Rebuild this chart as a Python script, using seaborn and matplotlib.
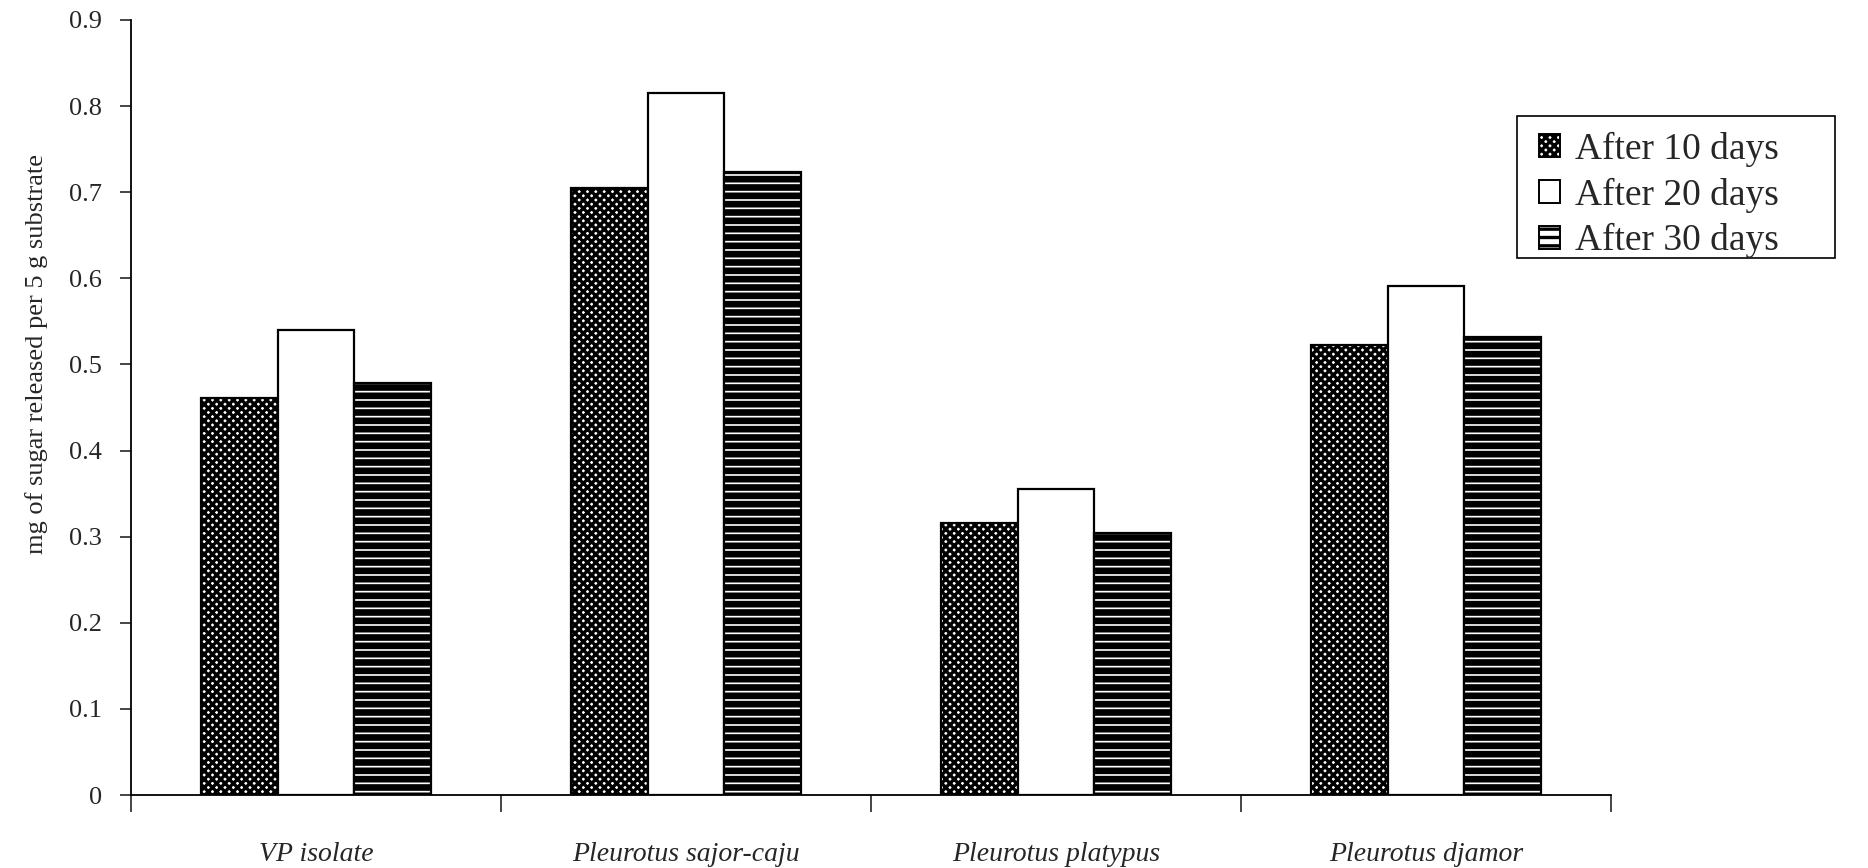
import matplotlib
matplotlib.use("Agg")
import matplotlib.pyplot as plt
import seaborn as sns
import pandas as pd
from matplotlib.patches import Patch, Rectangle

# ---- data ----
categories = ["VP isolate", "Pleurotus sajor-caju", "Pleurotus platypus", "Pleurotus djamor"]
series = ["After 10 days", "After 20 days", "After 30 days"]
after_10 = [0.461, 0.705, 0.316, 0.523]
after_20 = [0.540, 0.815, 0.355, 0.591]
after_30 = [0.479, 0.724, 0.304, 0.532]
y_ticks = [0, 0.1, 0.2, 0.3, 0.4, 0.5, 0.6, 0.7, 0.8, 0.9]
y_tick_labels = ["0", "0.1", "0.2", "0.3", "0.4", "0.5", "0.6", "0.7", "0.8", "0.9"]
y_label = "mg of sugar released per 5 g substrate"

rows = []
for s, vals in zip(series, [after_10, after_20, after_30]):
    for c, v in zip(categories, vals):
        rows.append({"category": c, "series": s, "value": v})
df = pd.DataFrame(rows)

sns.set_style("ticks")
plt.rcParams["font.family"] = ["Liberation Serif", "DejaVu Serif"]
plt.rcParams["hatch.linewidth"] = 2.4
plt.rcParams["hatch.color"] = "black"

W, H = 1868, 868
fig = plt.figure(figsize=(W / 100, H / 100), dpi=100)
ax = fig.add_axes([131 / W, 1 - 795 / H, (1611 - 131) / W, (795 - 20) / H])

sns.barplot(data=df, x="category", y="value", hue="series", order=categories,
            hue_order=series, palette=["white", "white", "white"], width=0.62,
            gap=0, edgecolor="black", linewidth=1.6, legend=False, ax=ax)

hatches = ["xxxx", "", "--"]
hlw = [2.4, 1.0, 4.8]
for cont, h, lw in zip(ax.containers, hatches, hlw):
    for p in cont:
        p.set_hatch(h)
        p.set_edgecolor("black")
        try:
            p.set_hatch_linewidth(lw)
        except Exception:
            pass

ax.set_xlim(-0.5, len(categories) - 0.5)
ax.set_ylim(0, 0.9)
ax.set_yticks(y_ticks)
ax.set_yticklabels(y_tick_labels, fontsize=19)
ax.tick_params(axis="y", length=8, width=1.2, pad=13)

# boundaries as major ticks, category labels as minor ticks
ax.set_xticks([i - 0.5 for i in range(len(categories) + 1)])
ax.set_xticklabels([""] * (len(categories) + 1))
ax.set_xticks(range(len(categories)), minor=True)
ax.set_xticklabels(categories, minor=True, fontsize=20, fontstyle="italic")
ax.tick_params(axis="x", which="major", length=12, width=1.2, direction="out")
ax.tick_params(axis="x", which="minor", length=0, pad=34)

ax.set_xlabel("")
ax.set_ylabel(y_label, fontsize=19)
ax.yaxis.set_label_coords(-0.056, 0.569)

for side in ["top", "right"]:
    ax.spines[side].set_visible(False)
for side in ["left", "bottom"]:
    ax.spines[side].set_linewidth(1.3)
    ax.spines[side].set_color("black")

handles = []
for s, h, lw in zip(series, hatches, hlw):
    p = Patch(facecolor="white", edgecolor="black", hatch=h, linewidth=1.4, label=s)
    try:
        p.set_hatch_linewidth(lw)
    except Exception:
        pass
    handles.append(p)
leg = fig.legend(handles=handles, loc="upper left",
                 bbox_to_anchor=(1539 / W, 1 - 132 / H), fontsize=27,
                 frameon=False, handlelength=0.56, handleheight=0.56,
                 handletextpad=0.4, labelspacing=0.28, borderpad=0,
                 borderaxespad=0)
# legend frame (box) as in the reference
fig.patches.append(Rectangle((1517 / W, 1 - 258 / H), (1835 - 1517) / W, (258 - 116) / H,
                             transform=fig.transFigure, facecolor="none",
                             edgecolor="black", linewidth=1.2, zorder=5))

fig.savefig("out.png", dpi=100, facecolor="white")
